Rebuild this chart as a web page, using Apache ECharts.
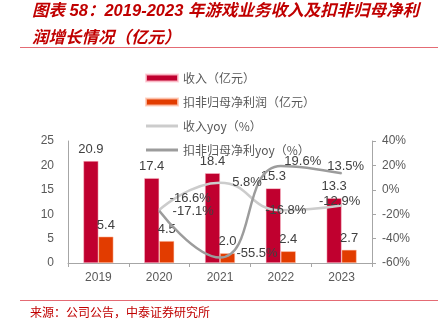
<!DOCTYPE html>
<html>
<head>
<meta charset="utf-8">
<script src="https://cdn.jsdelivr.net/npm/echarts@6/dist/echarts.min.js"></script>
<style>
html,body{margin:0;padding:0;background:#fff;}
#c{width:438px;height:332px;}
</style>
</head>
<body>
<div id="c"></div>
<script>
var years = ['2019', '2020', '2021', '2022', '2023'];
var revenue = [20.9, 17.4, 18.4, 15.3, 13.3];
var profit = [5.4, 4.5, 2.0, 2.4, 2.7];
var revenueYoy = [null, -16.6, 5.8, -16.8, -12.9];
var profitYoy = [null, -17.1, -55.5, 19.6, 13.5];
var leftTicks = {min: 0, max: 25, interval: 5};
var rightTicks = {min: -60, max: 40, interval: 20};

var names = ['收入（亿元）', '扣非归母净利润（亿元）', '收入yoy（%）', '扣非归母净利yoy（%）'];

// label offsets (layout only)
var revYoyOffsets = [null, [31, -12], [27, 0], [5, 0], [-2, -4]];
var profYoyOffsets = [null, [34, 1], [37, -4], [22, -4], [4, -7]];

function lineData(vals, offs) {
  return vals.map(function (v, i) {
    if (v === null) return '-';
    return {value: v, label: {offset: offs[i]}};
  });
}

var chart = echarts.init(document.getElementById('c'), null, {renderer: 'canvas'});
var axisColor = '#a6a6a6';
var txt = '#595959';
var lblFont = 'Liberation Sans, Arial, sans-serif';
var titleRed = '#c00000';
var lineRed = '#e46b74';

function fmt1(p) { return Number(p.value).toFixed(1); }
function fmtPct(p) { return Number(p.value).toFixed(1) + '%'; }

var option = {
  animation: false,
  backgroundColor: '#fff',
  grid: {left: 68, right: 66, top: 141, bottom: 69, containLabel: false},
  graphic: [
    {type: 'text', left: 32, top: 3, style: {text: '图表 58：2019-2023 年游戏业务收入及扣非归母净利', fill: titleRed, font: 'italic bold 16.5px "Liberation Sans", "Noto Sans CJK SC", sans-serif'}},
    {type: 'text', left: 32, top: 28, style: {text: '润增长情况（亿元）', fill: titleRed, font: 'italic bold 16.5px "Noto Sans CJK SC", sans-serif'}},
    {type: 'line', shape: {x1: 20, y1: 47.5, x2: 438, y2: 47.5}, style: {stroke: lineRed, lineWidth: 1.2}},
    {type: 'line', shape: {x1: 20, y1: 300.5, x2: 438, y2: 300.5}, style: {stroke: lineRed, lineWidth: 1.2}},
    {type: 'text', left: 30, top: 306, style: {text: '来源：公司公告，中泰证券研究所', fill: titleRed, font: '12px "Noto Sans CJK SC", sans-serif'}}
  ],
  legend: {
    orient: 'vertical',
    left: 140,
    top: 66,
    itemWidth: 32,
    itemHeight: 7,
    itemGap: 10,
    textStyle: {color: txt, fontSize: 12, lineHeight: 14, fontFamily: 'Noto Sans CJK SC'},
    data: [
      {name: names[0], icon: 'rect'},
      {name: names[1], icon: 'rect'},
      {name: names[2], icon: 'path://M0 0H32V3H0Z'},
      {name: names[3], icon: 'path://M0 0H32V3H0Z'}
    ]
  },
  xAxis: {
    type: 'category',
    data: years,
    axisLine: {show: true, lineStyle: {color: axisColor, width: 1}},
    axisTick: {show: true, alignWithLabel: false, length: 4, lineStyle: {color: axisColor}},
    axisLabel: {color: txt, fontSize: 12, margin: 9, fontFamily: lblFont},
    splitLine: {show: false}
  },
  yAxis: [
    {
      type: 'value',
      min: leftTicks.min, max: leftTicks.max, interval: leftTicks.interval,
      axisLine: {show: true, lineStyle: {color: axisColor}},
      axisTick: {show: false},
      axisLabel: {color: txt, fontSize: 12, margin: 14, fontFamily: lblFont},
      splitLine: {show: false}
    },
    {
      type: 'value',
      min: rightTicks.min, max: rightTicks.max, interval: rightTicks.interval,
      position: 'right',
      axisLine: {show: true, lineStyle: {color: axisColor}},
      axisTick: {show: true, length: 4, lineStyle: {color: axisColor}},
      axisLabel: {color: txt, fontSize: 12, margin: 10, fontFamily: lblFont, formatter: '{value}%'},
      splitLine: {show: false}
    }
  ],
  series: [
    {
      name: names[0], type: 'bar', data: revenue, barWidth: 15, barGap: '0%',
      itemStyle: {color: '#c0002f', borderColor: 'rgba(255,200,210,0.8)', borderWidth: 0.6},
      label: {show: true, position: 'top', distance: 5, color: '#404040', fontSize: 13, fontFamily: lblFont, formatter: fmt1}
    },
    {
      name: names[1], type: 'bar', data: profit, barWidth: 15,
      itemStyle: {color: '#e23c00', borderColor: 'rgba(255,200,180,0.8)', borderWidth: 0.6},
      label: {show: true, position: 'top', distance: 5, color: '#404040', fontSize: 13, fontFamily: lblFont, formatter: fmt1}
    },
    {
      name: names[2], type: 'line', yAxisIndex: 1, data: lineData(revenueYoy, revYoyOffsets),
      smooth: 0.5, symbol: 'circle', symbolSize: 1, showSymbol: true,
      lineStyle: {color: '#cccccc', width: 2.5}, itemStyle: {color: '#cccccc'},
      label: {show: true, position: 'inside', color: '#404040', fontSize: 13, fontFamily: lblFont, formatter: fmtPct},
      z: 3
    },
    {
      name: names[3], type: 'line', yAxisIndex: 1, data: lineData(profitYoy, profYoyOffsets),
      smooth: 0.5, symbol: 'circle', symbolSize: 1, showSymbol: true,
      lineStyle: {color: '#9c9c9c', width: 2.5}, itemStyle: {color: '#9c9c9c'},
      label: {show: true, position: 'inside', color: '#404040', fontSize: 13, fontFamily: lblFont, formatter: fmtPct},
      z: 3
    }
  ]
};
chart.setOption(option);
</script>
</body>
</html>
